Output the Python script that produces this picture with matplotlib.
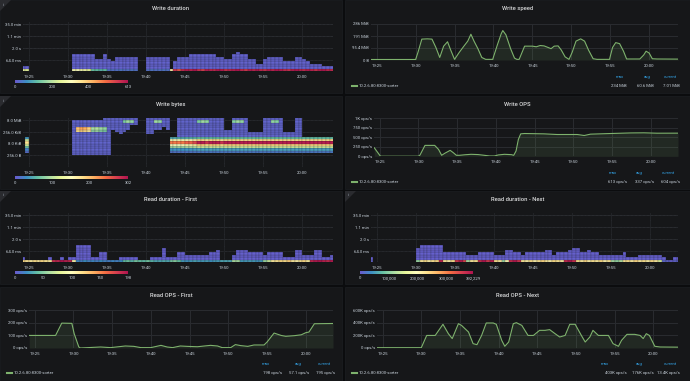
import matplotlib
matplotlib.use("Agg")
import matplotlib.pyplot as plt
import numpy as np
from matplotlib.patches import Rectangle, Polygon
from matplotlib.lines import Line2D
from matplotlib.colors import LinearSegmentedColormap

# ---------------------------------------------------------------- data
# time axis in minutes after 19:00
tick_minutes = [25, 30, 35, 40, 45, 50, 55, 60]
tick_labels = ["19:25", "19:30", "19:35", "19:40", "19:45", "19:50", "19:55", "20:00"]

# heatmaps: 30 s columns starting at 19:24:00
hm_start = 24.0
hm_step = 0.5

# Write duration: filled buckets per column, count in lowest bucket
wd_height = [2, 2, 0, 0, 0, 0, 0, 0, 0, 0, 0, 0, 0, 7, 7, 7, 7, 7, 7, 5,
             5, 7, 5, 4, 6, 6, 6, 6, 6, 6, 0, 0, 6, 6, 6, 6, 6, 6, 1, 4,
             6, 6, 6, 7, 7, 7, 7, 7, 7, 7, 6, 6, 5, 5, 7, 8, 7, 7, 5, 5,
             3, 3, 5, 6, 6, 6, 6, 4, 4, 4, 6, 6, 5, 4, 3, 3, 3, 2, 2, 2]
wd_bottom = [260, 250, 0, 0, 0, 0, 0, 0, 0, 0, 0, 0, 0, 290, 300, 280, 270, 250, 130, 120,
             110, 120, 35, 30, 30, 35, 30, 30, 35, 30, 0, 0, 30, 35, 30, 30, 35, 30, 330, 560,
             520, 580, 600, 590, 613, 570, 550, 600, 590, 580, 610, 600, 570, 590, 600, 613, 580, 560, 600, 590,
             610, 580, 570, 600, 590, 613, 600, 580, 570, 600, 610, 590, 580, 600, 590, 570, 600, 610, 590, 580]
wd_upper = 10
wd_cb_values = [0, 200, 400, 613]

# Read duration - First
rf_height = [2, 1, 1, 1, 1, 1, 1, 2, 1, 1, 2, 1, 2, 2, 7, 7, 7, 7, 2, 2,
             4, 4, 1, 1, 1, 2, 2, 2, 2, 2, 1, 1, 1, 2, 2, 2, 6, 2, 2, 2,
             4, 4, 3, 3, 3, 3, 3, 3, 4, 4, 5, 1, 1, 1, 3, 5, 5, 5, 4, 4,
             4, 4, 3, 4, 4, 4, 4, 2, 2, 2, 5, 5, 3, 3, 3, 5, 5, 2, 2, 3]
rf_bottom = [120, 115, 110, 118, 112, 120, 115, 110, 185, 190, 198, 192, 188, 105, 18, 15, 20, 16, 18, 15,
             20, 17, 15, 18, 16, 20, 38, 42, 35, 45, 40, 38, 44, 36, 30, 30, 32, 30, 45, 50,
             40, 25, 22, 25, 28, 24, 25, 26, 22, 25, 25, 30, 30, 30, 60, 58, 25, 24, 26, 25,
             22, 25, 55, 70, 110, 115, 120, 118, 125, 112, 108, 115, 120, 110, 190, 195, 198, 192, 188, 195]
rf_upper = 3
rf_cb_values = [0, 50, 100, 150, 198]

# Read duration - Next
rn_height = [2, 0, 0, 0, 0, 0, 0, 0, 0, 0, 0, 0, 6, 7, 7, 7, 7, 7, 7, 4,
             4, 4, 4, 4, 4, 3, 3, 3, 4, 4, 4, 4, 3, 3, 3, 5, 5, 4, 4, 3,
             4, 4, 4, 4, 4, 5, 5, 3, 4, 4, 4, 5, 6, 6, 4, 4, 5, 4, 4, 3,
             3, 3, 3, 3, 3, 4, 2, 2, 2, 3, 3, 3, 3, 3, 3, 2, 1, 1, 2, 2]
rn_bottom = [8000, 0, 0, 0, 0, 0, 0, 0, 0, 0, 0, 0, 110000, 220000, 235000, 215000, 228000, 240000, 375000, 225000,
             210000, 232000, 360000, 385000, 345000, 120000, 222000, 230000, 370000, 392229, 360000, 380000, 232000, 218000, 110000, 205000, 370000, 388000, 362000, 225000,
             215000, 232000, 210000, 228000, 240000, 220000, 212000, 235000, 226000, 218000, 372000, 390000, 365000, 230000, 220000, 240000, 215000, 228000, 222000, 236000,
             210000, 225000, 115000, 105000, 125000, 225000, 232000, 218000, 240000, 222000, 230000, 215000, 235000, 220000, 150000, 12000, 9000, 6000, 8000, 7000]
rn_upper = 6000
rn_cb_values = [0, 100000, 200000, 300000, 392229]

# Write bytes: lowest / highest filled log2 bucket per column (0 = empty)
wb_lo = [0, 9, 0, 0, 0, 0, 0, 0, 0, 0, 0, 0, 0, 8, 8, 8, 8, 8, 8, 8,
         8, 8, 8, 19, 18, 17, 18, 19, 21, 21, 0, 0, 17, 17, 19, 19, 20, 19, 9, 9,
         9, 9, 9, 9, 9, 9, 9, 9, 9, 9, 9, 9, 9, 9, 9, 9, 9, 9, 9, 9,
         9, 9, 9, 9, 9, 9, 9, 9, 9, 9, 9, 9, 9, 9, 9, 9, 9, 9, 9, 9]
wb_hi = [0, 15, 0, 0, 0, 0, 0, 0, 0, 0, 0, 0, 0, 22, 22, 22, 22, 22, 22, 22,
         22, 23, 23, 23, 23, 23, 23, 23, 23, 23, 0, 0, 23, 23, 23, 23, 23, 23, 15, 15,
         23, 23, 23, 23, 23, 23, 23, 23, 23, 23, 23, 23, 18, 18, 23, 23, 23, 23, 17, 17,
         17, 17, 23, 23, 23, 23, 23, 17, 17, 17, 23, 23, 15, 15, 15, 15, 15, 15, 15, 15]
wb_base = 6
# steady band of block sizes (bucket -> count) and its strength per column
wb_band_rows = [9, 10, 11, 12, 13, 14, 15]
wb_band_counts = [20, 40, 110, 190, 295, 180, 60]
wb_band_scale = [0, 0.6, 0, 0, 0, 0, 0, 0, 0, 0, 0, 0, 0, 0, 0, 0, 0, 0, 0, 0,
                 0, 0, 0, 0, 0, 0, 0, 0, 0, 0, 0, 0, 0, 0, 0, 0, 0, 0, 0.8, 0.8,
                 0.8, 0.8, 0.85, 0.85, 0.9, 1.0, 1.0, 0.95, 1.0, 1.0, 1.0, 0.95, 1.0, 1.0, 1.0, 1.0, 1.0, 1.0, 1.0, 1.0,
                 1.0, 1.0, 1.0, 1.0, 1.0, 1.0, 1.0, 1.0, 1.0, 1.0, 1.0, 1.0, 1.0, 1.0, 1.0, 1.0, 1.0, 1.0, 1.0, 1.0]
wb_hot_col = [14, 14, 15, 15, 16, 16, 17, 17, 18, 18, 19, 19, 20, 20, 21, 21,
              26, 27, 28, 34, 35, 45, 46, 47, 54, 55, 56, 64, 65]
wb_hot_bucket = [19, 18, 19, 18, 19, 18, 19, 18, 19, 18, 19, 18, 19, 18, 19, 18,
                 22, 22, 22, 22, 22, 22, 22, 22, 22, 22, 22, 22, 22]
wb_hot_count = [200, 180, 215, 190, 210, 185, 190, 170, 90, 80, 95, 85, 85, 75, 80, 70,
                70, 85, 80, 85, 80, 70, 85, 80, 75, 85, 80, 80, 75]
wb_cb_values = [0, 100, 200, 302]

# Line panels
series_name = "10.2.6.80:8300-sorter"

ws_t = [24.27, 30.0, 30.3, 30.8, 31.5, 32.1, 32.6, 33.1, 33.6, 34.1, 34.5, 35.0, 35.6, 36.2, 36.7, 37.1,
        37.5, 38.0, 38.5, 39.0, 39.9, 40.5, 41.0, 41.2, 41.6, 42.2, 42.7, 43.0, 43.3, 44.0, 44.5, 45.0,
        45.5, 46.0, 46.5, 47.0, 47.4, 47.8, 48.3, 48.7, 49.2, 49.7, 50.1, 50.6, 51.2, 51.7, 52.2, 52.8,
        53.3, 54.9, 55.3, 55.7, 56.2, 56.7, 57.1, 58.8, 59.3, 59.6, 60.0, 60.4, 61.0, 63.9]
ws_v = [4, 4, 60, 166, 168, 166, 100, 20, 110, 145, 80, 5, 60, 110, 150, 205,
        150, 90, 20, 5, 5, 120, 210, 234, 200, 90, 15, 5, 5, 110, 110, 110,
        105, 115, 112, 100, 90, 110, 112, 80, 25, 5, 60, 150, 168, 150, 80, 10,
        5, 5, 100, 138, 130, 70, 8, 8, 40, 70, 55, 10, 8, 7]
ws_stats = ["234 MiB", "60.6 MiB", "7.01 MiB"]

wo_t = [24.3, 25.1, 30.0, 30.2, 30.85, 32.1, 32.6, 33.0, 33.4, 34.1, 34.5, 34.9, 35.3, 36.0, 36.8, 37.7,
        38.5, 39.2, 39.8, 40.3, 41.1, 42.0, 42.3, 42.6, 42.9, 43.2, 43.7, 46.2, 47.9, 50.5, 51.4, 52.2,
        54.8, 57.4, 59.1, 60.8, 63.5]
wo_v = [224, 2, 2, 30, 285, 285, 180, 26, 78, 155, 95, 26, 26, 40, 52, 45,
        26, 8, 8, 35, 52, 43, 26, 138, 440, 586, 595, 586, 569, 569, 543, 578,
        595, 610, 613, 603, 604]
wo_stats = ["613 ops/s", "337 ops/s", "604 ops/s"]

rof_t = [24.3, 27.7, 28.5, 29.8, 30.1, 30.7, 30.9, 33.5, 34.8, 36.7, 37.8, 38.7, 40.0, 41.3, 42.1, 42.8,
         43.8, 44.7, 46.0, 46.9, 47.7, 48.6, 49.2, 50.3, 50.9, 51.6, 52.5, 53.3, 54.6, 55.0, 55.9, 56.8,
         57.4, 58.5, 59.4, 60.0, 60.4, 61.1, 63.5]
rof_v = [100, 100, 198, 196, 114, 8, 0, 8, 3, 16, 13, 3, 3, 21, 8, 3,
         16, 13, 10, 16, 21, 16, 3, 3, 27, 19, 13, 24, 24, 48, 119, 100,
         93, 98, 105, 122, 127, 193, 195]
rof_stats = ["198 ops/s", "57.1 ops/s", "195 ops/s"]

ron_t = [24.26, 30.0, 30.7, 31.8, 32.8, 33.5, 34.0, 34.8, 35.2, 36.1, 36.7, 37.2, 37.8, 38.4, 39.3, 39.7,
         40.4, 40.8, 41.3, 41.9, 42.3, 43.0, 43.8, 44.5, 45.3, 46.0, 46.6, 47.3, 47.9, 48.6, 49.2, 49.9,
         50.7, 51.2, 51.8, 52.2, 52.9, 54.2, 54.8, 55.5, 55.9, 56.6, 57.6, 58.3, 58.7, 59.1, 59.5, 60.2,
         60.9, 63.2]
ron_v = [5, 5, 200, 200, 377, 228, 150, 387, 360, 255, 69, 53, 200, 398, 398, 377,
         122, 27, 95, 387, 403, 360, 200, 200, 281, 281, 292, 228, 175, 200, 377, 377,
         200, 95, 175, 281, 200, 200, 69, 27, 122, 217, 217, 200, 150, 228, 200, 27,
         16, 13.4]
ron_stats = ["403K ops/s", "176K ops/s", "13.4K ops/s"]

# ---------------------------------------------------------------- style
W, H = 690, 381
PAGE_BG = "#0b0c0e"
PANEL_BG = "#161719"
GRID = "#2a2c30"
TICK = "#c7d0d9"
TITLE = "#d8d9da"
BLUE = "#33a2e5"
GREEN = "#7eb26d"
# spectral scheme as grafana shows it (violet low end)
CMAP = LinearSegmentedColormap.from_list(
    "grafana_spectral",
    ["#6a5acd", "#3d8fc4", "#66c2a5", "#abdda4", "#e6f598", "#ffffbf",
     "#fee08b", "#fdae61", "#f46d43", "#d53e4f", "#b0144f"])

plt.rcParams["font.family"] = ["Roboto", "DejaVu Sans"]

fig = plt.figure(figsize=(W / 100, H / 100), dpi=100, facecolor=PAGE_BG)

PANEL_X = [0, 345]
PANEL_W = [342, 345]
ROW_Y = [0, 96, 191, 287]
ROW_H = [93, 93, 93, 94]


def frac(x, y, w, h):
    return [x / W, 1 - (y + h) / H, w / W, h / H]


def fx(x):
    return x / W


def fy(y):
    return 1 - y / H


def label(x, y, s, color=TICK, size=3.1, ha="center", **kw):
    # y is the visual middle of digits / lowercase text, in pixels from the top
    fig.text(fx(x), fy(y + 1.3), s, ha=ha, va="baseline", fontsize=size, color=color, **kw)


def add_panel(col, row, title, info=False):
    px, py = PANEL_X[col], ROW_Y[row]
    pw, ph = PANEL_W[col], ROW_H[row]
    fig.patches.append(Rectangle((fx(px), fy(py + ph)), pw / W, ph / H,
                                 transform=fig.transFigure, facecolor=PANEL_BG,
                                 edgecolor="#202226", linewidth=0.4, zorder=-10))
    label(px + pw / 2, py + 8.6, title, color=TITLE, size=4.2, weight="medium")
    if info:
        fig.patches.append(Polygon([(fx(px), fy(py)), (fx(px + 11), fy(py)), (fx(px), fy(py + 11))],
                                   closed=True, transform=fig.transFigure,
                                   facecolor="#2a2b2f", edgecolor="none", zorder=-9))
        label(px + 3.2, py + 4.2, "i", color="#9fa7b3", size=3.2)
    return px, py


def make_axes(px, py, x0, y0, x1, y1, xlim, ylim, yticks, ylabels):
    ax = fig.add_axes(frac(px + x0, py + y0, x1 - x0, y1 - y0))
    ax.set_facecolor("none")
    for s in ax.spines.values():
        s.set_visible(False)
    ax.set_xlim(*xlim)
    ax.set_ylim(*ylim)
    ax.set_xticks(tick_minutes)
    ax.set_xticklabels(tick_labels)
    ax.set_yticks(yticks)
    ax.set_yticklabels(ylabels)
    ax.tick_params(length=0, labelsize=3.1, colors=TICK)
    ax.tick_params(axis="x", pad=2.6)
    ax.tick_params(axis="y", pad=1.4)
    ax.grid(True, color=GRID, linewidth=0.7)
    ax.set_axisbelow(True)
    return ax


def draw_cells(ax, grid, y0, vmax):
    ncol = grid.shape[1]
    xe = hm_start + hm_step * np.arange(ncol + 1)
    ye = y0 + np.arange(grid.shape[0] + 1)
    ax.pcolormesh(xe, ye, np.ma.masked_invalid(grid), cmap=CMAP, vmin=0, vmax=vmax,
                  edgecolors=PANEL_BG, linewidth=0.12, antialiased=True)


def colorbar(px, py, values):
    vmax = values[-1]
    cax = fig.add_axes(frac(px + 15, py + 80, 113, 2.6))
    cax.imshow(np.linspace(0, 1, 256)[None, :], aspect="auto", cmap=CMAP, extent=(0, 1, 0, 1))
    cax.axis("off")
    for v in values:
        label(px + 15 + 113 * v / vmax, py + 86.5, f"{v:,}")


def duration_grid(height, bottom, upper, nrows=21):
    grid = np.full((nrows, len(height)), np.nan)
    for i, (h, b) in enumerate(zip(height, bottom)):
        if h > 0:
            grid[0, i] = b
            grid[1:h, i] = upper
    return grid


def bytes_grid():
    grid = np.full((21, len(wb_lo)), np.nan)   # buckets 3 .. 23
    for i, (lo, hi) in enumerate(zip(wb_lo, wb_hi)):
        if lo > 0:
            grid[lo - 3:hi - 2, i] = wb_base
    for i, s in enumerate(wb_band_scale):
        if s > 0:
            for b, c in zip(wb_band_rows, wb_band_counts):
                grid[b - 3, i] = c * s
    for c, b, n in zip(wb_hot_col, wb_hot_bucket, wb_hot_count):
        grid[b - 3, c] = n
    return grid


def line_panel(col, row, title, t, v, x0, ylim, yticks, ylabels, y0, y1, t_end,
               stats, header_x):
    px, py = add_panel(col, row, title)
    ax = make_axes(px, py, x0, y0, 333, y1, (24.27, t_end), ylim, yticks, ylabels)
    ax.fill_between(t, v, 0, color=GREEN, alpha=0.12, linewidth=0)
    ax.plot(t, v, color=GREEN, linewidth=0.8)
    # legend table
    fig.add_artist(Line2D([fx(px + 7), fx(px + 11.5)], [fy(py + 86), fy(py + 86)],
                          color=GREEN, linewidth=1.5, transform=fig.transFigure))
    label(px + 14, py + 86, series_name, ha="left")
    for name, hx in zip(["max", "avg", "current"], header_x):
        label(px + hx, py + 76.5, name, color=BLUE)
    for s, rx in zip(stats, [282, 309, 335]):
        label(px + rx, py + 86, s, ha="right")


dur_ticks = [6, 11, 16, 21]
dur_labels = ["64.0 ms", "2.0 s", "1.1 min", "35.0 min"]

# ---- Write duration
px, py = add_panel(0, 0, "Write duration", info=True)
ax = make_axes(px, py, 23, 22, 333, 71, (24.27, 63.9), (1.4, 22.0), dur_ticks, dur_labels)
draw_cells(ax, duration_grid(wd_height, wd_bottom, wd_upper), 1.4, wd_cb_values[-1])
colorbar(px, py, wd_cb_values)

# ---- Write bytes
px, py = add_panel(0, 1, "Write bytes", info=True)
ax = make_axes(px, py, 23, 22, 333, 71, (24.27, 63.9), (3.0, 24.0), [8, 13, 18, 23],
               ["256.0 B", "8.0 KiB", "256.0 KiB", "8.0 MiB"])
draw_cells(ax, bytes_grid(), 3, wb_cb_values[-1])
colorbar(px, py, wb_cb_values)

# ---- Read duration - First
px, py = add_panel(0, 2, "Read duration - First", info=True)
ax = make_axes(px, py, 23, 22, 333, 71, (24.27, 63.9), (1.4, 22.0), dur_ticks, dur_labels)
draw_cells(ax, duration_grid(rf_height, rf_bottom, rf_upper), 1.4, rf_cb_values[-1])
colorbar(px, py, rf_cb_values)

# ---- Read duration - Next
px, py = add_panel(1, 2, "Read duration - Next", info=True)
ax = make_axes(px, py, 26, 22, 333, 71, (24.27, 63.6), (1.4, 22.0), dur_ticks, dur_labels)
draw_cells(ax, duration_grid(rn_height, rn_bottom, rn_upper), 1.4, rn_cb_values[-1])
colorbar(px, py, rn_cb_values)

# ---- line panels
line_panel(1, 0, "Write speed", ws_t, ws_v, 26, (0, 286.1), [0, 95.4, 190.7, 286.1],
           ["0 B", "95.4 MiB", "191 MiB", "286 MiB"], 24, 60, 63.7, ws_stats, [275, 302, 325])
line_panel(1, 1, "Write OPS", wo_t, wo_v, 29, (0, 1000), [0, 250, 500, 750, 1000],
           ["0 ops/s", "250 ops/s", "500 ops/s", "750 ops/s", "1K ops/s"], 22, 60.3, 63.5,
           wo_stats, [268, 294, 323])
line_panel(0, 3, "Read OPS - First", rof_t, rof_v, 29, (0, 300), [0, 100, 200, 300],
           ["0 ops/s", "100 ops/s", "200 ops/s", "300 ops/s"], 23.3, 61, 63.5,
           rof_stats, [266, 298, 324])
line_panel(1, 3, "Read OPS - Next", ron_t, ron_v, 32, (0, 600), [0, 200, 400, 600],
           ["0 ops/s", "200K ops/s", "400K ops/s", "600K ops/s"], 23.3, 61, 63.2,
           ron_stats, [260, 294, 325])

fig.savefig("out.png", dpi=100, facecolor=PAGE_BG)
